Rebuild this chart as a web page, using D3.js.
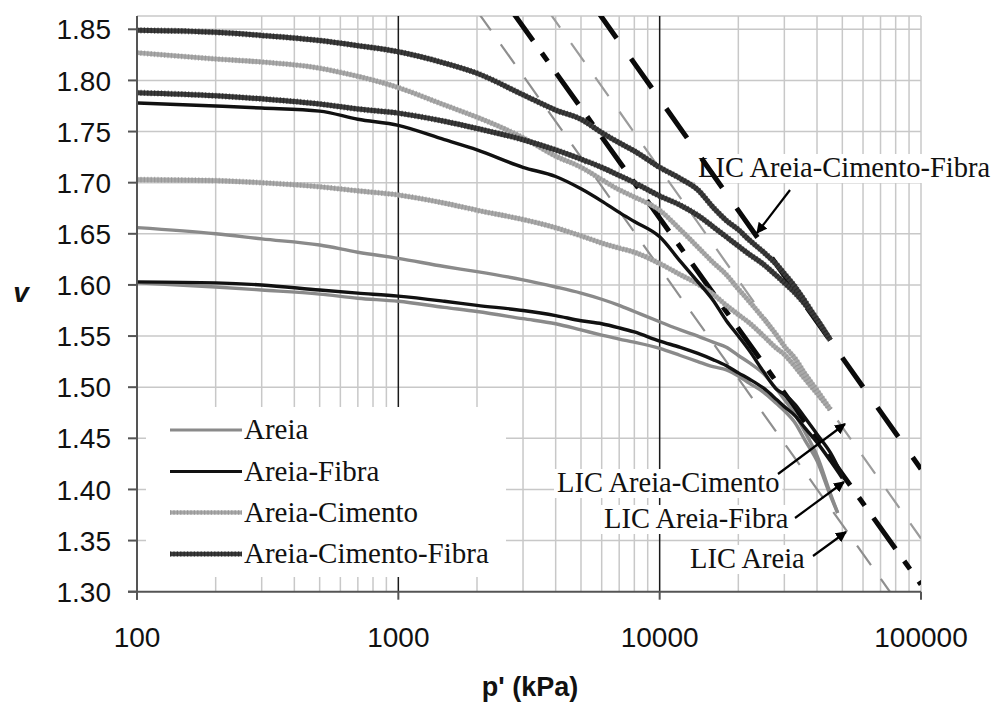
<!DOCTYPE html>
<html><head><meta charset="utf-8">
<script src="https://cdn.jsdelivr.net/npm/d3@7"></script>
<style>
html,body{margin:0;padding:0;background:#fff;}
svg{display:block;}
</style>
</head><body>
<svg id="chart" width="995" height="702"></svg>
<script>
// ---------------- DATA ----------------
const pACF = [100,200,300,500,700,1000,1500,2000,3000,4000,5000,6000,7000,8000,10000,12000,14000,16000,18000,20000,22000,25000,28000,30000,33000,36000,40000,45000];
const vACF1 = [1.849,1.847,1.844,1.839,1.834,1.828,1.817,1.807,1.786,1.771,1.762,1.749,1.739,1.731,1.715,1.704,1.693,1.676,1.663,1.654,1.644,1.632,1.620,1.611,1.598,1.584,1.566,1.546];
const vACF2 = [1.788,1.785,1.782,1.777,1.772,1.768,1.760,1.753,1.742,1.732,1.723,1.715,1.707,1.700,1.687,1.678,1.668,1.657,1.647,1.638,1.630,1.620,1.609,1.602,1.592,1.581,1.566,1.546];
const pAC = [100,200,300,500,700,1000,1500,2000,3000,4000,5000,6000,7000,8000,10000,12000,14000,16000,18000,20000,22000,25000,28000,30000,33000,36000,40000,45000];
const vAC1 = [1.827,1.821,1.818,1.812,1.804,1.793,1.776,1.764,1.744,1.726,1.715,1.703,1.693,1.686,1.673,1.654,1.637,1.622,1.610,1.596,1.584,1.567,1.551,1.540,1.528,1.513,1.497,1.478];
const vAC2 = [1.703,1.702,1.700,1.696,1.692,1.688,1.680,1.673,1.664,1.656,1.648,1.641,1.636,1.632,1.621,1.610,1.601,1.591,1.580,1.571,1.563,1.550,1.538,1.532,1.520,1.508,1.494,1.478];
const pAF = [100,200,300,500,700,1000,1500,2000,3000,4000,5000,6000,7000,8000,10000,12000,14000,16000,18000,20000,22000,25000,28000,30000,33000,36000,40000,45000,50000];
const vAF1 = [1.778,1.775,1.773,1.770,1.762,1.756,1.742,1.732,1.715,1.706,1.694,1.682,1.671,1.662,1.647,1.623,1.603,1.585,1.565,1.550,1.536,1.515,1.498,1.493,1.483,1.470,1.454,1.436,1.413];
const vAF2 = [1.603,1.602,1.600,1.595,1.592,1.589,1.584,1.580,1.575,1.570,1.565,1.562,1.558,1.554,1.545,1.539,1.533,1.527,1.521,1.514,1.508,1.499,1.488,1.481,1.472,1.460,1.446,1.428,1.411];
const pA = [100,200,300,500,700,1000,1500,2000,3000,4000,5000,6000,7000,8000,10000,12000,14000,16000,18000,20000,22000,25000,28000,30000,33000,36000,40000,45000,48000];
const vA1 = [1.656,1.650,1.645,1.639,1.632,1.626,1.618,1.613,1.605,1.598,1.592,1.586,1.580,1.574,1.564,1.556,1.550,1.544,1.539,1.531,1.524,1.513,1.498,1.488,1.473,1.456,1.433,1.396,1.377];
const vA2 = [1.602,1.598,1.595,1.591,1.587,1.584,1.578,1.574,1.567,1.562,1.556,1.551,1.547,1.544,1.538,1.531,1.525,1.520,1.517,1.511,1.504,1.495,1.484,1.477,1.465,1.448,1.428,1.394,1.377];

// LIC lines (two end points each)
const licACF_p = [5700, 100000],  licACF_v = [1.870, 1.420];
const licAF_p  = [2700, 100000],  licAF_v  = [1.869, 1.307];
const licAC_p  = [3700, 100000],  licAC_v  = [1.870, 1.352];
const licA_p   = [2000, 80000],   licA_v   = [1.868, 1.292];

const yTicks = [1.30,1.35,1.40,1.45,1.50,1.55,1.60,1.65,1.70,1.75,1.80,1.85];
const xTicks = [100,1000,10000,100000];
const legendNames = ["Areia","Areia-Fibra","Areia-Cimento","Areia-Cimento-Fibra"];
const licLabels = ["LIC Areia-Cimento-Fibra","LIC Areia-Cimento","LIC Areia-Fibra","LIC Areia"];

// ---------------- LAYOUT ----------------
const svg = d3.select("#chart");
const L = 137, R = 921, T = 16, B = 591.7;
const x = d3.scaleLog().domain([100,100000]).range([L,R]);
const y = d3.scaleLinear().domain([1.30,1.863]).range([B,T]);

const styles = {
  A:   {color:"#8a8a8a", w:3.4},
  AF:  {color:"#111111", w:3.4},
  AC:  {color:"#a9a9a9", w:4.6},
  ACF: {color:"#3c3c3c", w:5}
};
const SANS = "Liberation Sans, Arial, sans-serif";
const SERIF = "Liberation Serif, Times New Roman, serif";

// clip
svg.append("clipPath").attr("id","clip").append("rect")
  .attr("x",L).attr("y",T).attr("width",R-L).attr("height",B-T);

// gridlines
const grid = svg.append("g");
const minor = [];
[100,1000,10000].forEach(d=>{ for(let k=2;k<=9;k++) minor.push(d*k); });
grid.selectAll(".vmin").data(minor).enter().append("line")
  .attr("x1",d=>x(d)).attr("x2",d=>x(d)).attr("y1",T).attr("y2",B)
  .attr("stroke","#c8c8c8").attr("stroke-width",1.5);
grid.selectAll(".hg").data(yTicks.slice(1)).enter().append("line")
  .attr("x1",L).attr("x2",R).attr("y1",d=>y(d)).attr("y2",d=>y(d))
  .attr("stroke","#c8c8c8").attr("stroke-width",1.5);
grid.append("line").attr("x1",L).attr("x2",R).attr("y1",T).attr("y2",T)
  .attr("stroke","#c8c8c8").attr("stroke-width",1.5);
grid.append("line").attr("x1",R).attr("x2",R).attr("y1",T).attr("y2",B)
  .attr("stroke","#c8c8c8").attr("stroke-width",1.5);
grid.selectAll(".vmaj").data([1000,10000]).enter().append("line")
  .attr("x1",d=>x(d)).attr("x2",d=>x(d)).attr("y1",T).attr("y2",B)
  .attr("stroke","#1a1a1a").attr("stroke-width",1.5);

// white boxes (legend + labels) to hide grid
const legendBox = {x:146, y:407, w:360, h:170};
svg.append("rect").attr("x",legendBox.x).attr("y",legendBox.y)
  .attr("width",legendBox.w).attr("height",legendBox.h).attr("fill","#fff");

const labelPos = [
  {x:698, y:177},
  {x:557, y:492},
  {x:604, y:528},
  {x:690, y:568}
];
const labelSel = svg.append("g").selectAll("text").data(licLabels).enter().append("text")
  .attr("x",(d,i)=>labelPos[i].x).attr("y",(d,i)=>labelPos[i].y)
  .attr("font-family",SERIF).attr("font-size",28.5).attr("fill","#111").text(d=>d);
labelSel.each(function(){
  const b = this.getBBox();
  d3.select(this.parentNode).insert("rect","text")
    .attr("x",b.x-3).attr("y",b.y+2).attr("width",b.width+6).attr("height",b.height-2)
    .attr("fill","#fff");
});

// LIC lines
const plot = svg.append("g").attr("clip-path","url(#clip)");
const lineXY = d3.line().x(d=>x(d[0])).y(d=>y(d[1]));
const lics = [
  {p:licA_p, v:licA_v, color:"#8f8f8f", w:2.2, dash:"24,17"},
  {p:licAC_p, v:licAC_v, color:"#9c9c9c", w:2.2, dash:"23,19"},
  {p:licAF_p, v:licAF_v, color:"#0a0a0a", w:5, dash:"38,15,10,15"},
  {p:licACF_p, v:licACF_v, color:"#0a0a0a", w:5, dash:"36,25"}
];
lics.forEach(l=>{
  plot.append("path").datum(d3.zip(l.p,l.v)).attr("d",lineXY)
    .attr("fill","none").attr("stroke",l.color).attr("stroke-width",l.w)
    .attr("stroke-dasharray",l.dash);
});

// curves
const curve = d3.line().x(d=>x(d[0])).y(d=>y(d[1])).curve(d3.curveMonotoneX);
const series = [
  {p:pA, v:vA2, s:"A"}, {p:pA, v:vA1, s:"A"},
  {p:pAC, v:vAC2, s:"AC"}, {p:pAC, v:vAC1, s:"AC"},
  {p:pAF, v:vAF2, s:"AF"}, {p:pAF, v:vAF1, s:"AF"},
  {p:pACF, v:vACF2, s:"ACF"}, {p:pACF, v:vACF1, s:"ACF"}
];
series.forEach(sr=>{
  const st = styles[sr.s];
  plot.append("path").datum(d3.zip(sr.p,sr.v)).attr("d",curve)
    .attr("fill","none").attr("stroke",st.color).attr("stroke-width",st.w)
    .attr("stroke-linejoin","round");
  if(sr.s==="AC"||sr.s==="ACF"){
    plot.append("path").datum(d3.zip(sr.p,sr.v)).attr("d",curve)
      .attr("fill","none").attr("stroke",sr.s==="AC"?"#8e8e8e":"#1e1e1e")
      .attr("stroke-width",st.w+1.2).attr("stroke-dasharray","1.2,2.2").attr("opacity",0.6);
  }
});

// arrows
const defs = svg.append("defs");
defs.append("marker").attr("id","ah").attr("viewBox","0 0 10 10").attr("refX",9).attr("refY",5)
  .attr("markerWidth",5).attr("markerHeight",5).attr("orient","auto")
  .append("path").attr("d","M0,0 L10,5 L0,10 z").attr("fill","#000");
const arrows = [
  [[790,190],[757,233]],
  [[778,474],[845,424]],
  [[795,518],[844,482]],
  [[813,556],[846,532]]
];
svg.append("g").selectAll("line").data(arrows).enter().append("line")
  .attr("x1",d=>d[0][0]).attr("y1",d=>d[0][1]).attr("x2",d=>d[1][0]).attr("y2",d=>d[1][1])
  .attr("stroke","#000").attr("stroke-width",2.2).attr("marker-end","url(#ah)");

// axes
const ax = svg.append("g");
ax.append("line").attr("x1",L).attr("x2",L).attr("y1",T).attr("y2",B+8)
  .attr("stroke","#555").attr("stroke-width",2);
ax.append("line").attr("x1",L-9).attr("x2",R).attr("y1",B).attr("y2",B)
  .attr("stroke","#555").attr("stroke-width",2);
ax.selectAll(".yt").data(yTicks).enter().append("line")
  .attr("x1",L-9).attr("x2",L).attr("y1",d=>y(d)).attr("y2",d=>y(d))
  .attr("stroke","#555").attr("stroke-width",2);
ax.selectAll(".xt").data(xTicks).enter().append("line")
  .attr("x1",d=>x(d)).attr("x2",d=>x(d)).attr("y1",B).attr("y2",B+8)
  .attr("stroke","#555").attr("stroke-width",2);
ax.selectAll(".yl").data(yTicks).enter().append("text")
  .attr("x",111).attr("y",d=>y(d)).attr("dy","0.36em").attr("text-anchor","end")
  .attr("font-family",SANS).attr("font-size",28)
  .attr("fill","#111").text(d=>d3.format(".2f")(d));
ax.selectAll(".xl").data(xTicks).enter().append("text")
  .attr("x",d=>x(d)).attr("y",647).attr("text-anchor","middle")
  .attr("font-family",SANS).attr("font-size",28)
  .attr("fill","#111").text(d=>d);
svg.append("text").attr("x",530).attr("y",696).attr("text-anchor","middle")
  .attr("font-family",SANS).attr("font-size",27)
  .attr("font-weight","bold").attr("fill","#111").text("p' (kPa)");
svg.append("text").attr("x",21).attr("y",302).attr("text-anchor","middle")
  .attr("font-family",SANS).attr("font-size",28)
  .attr("font-weight","bold").attr("font-style","italic").attr("fill","#111").text("v");

// legend
const legKeys = ["A","AF","AC","ACF"];
const legY = [430, 471.5, 512.5, 554];
const leg = svg.append("g");
legKeys.forEach((k,i)=>{
  const st = styles[k];
  leg.append("line").attr("x1",170).attr("x2",242).attr("y1",legY[i]).attr("y2",legY[i])
    .attr("stroke",st.color).attr("stroke-width",st.w-0.4);
  if(k==="AC"||k==="ACF"){
    leg.append("line").attr("x1",170).attr("x2",242).attr("y1",legY[i]).attr("y2",legY[i])
      .attr("stroke",k==="AC"?"#8e8e8e":"#1e1e1e").attr("stroke-width",st.w+0.6)
      .attr("stroke-dasharray","1.2,2.2").attr("opacity",0.6);
  }
  leg.append("text").attr("x",244).attr("y",legY[i]+9)
    .attr("font-family",SERIF).attr("font-size",29)
    .attr("fill","#111").text(legendNames[i]);
});
</script>
</body></html>
